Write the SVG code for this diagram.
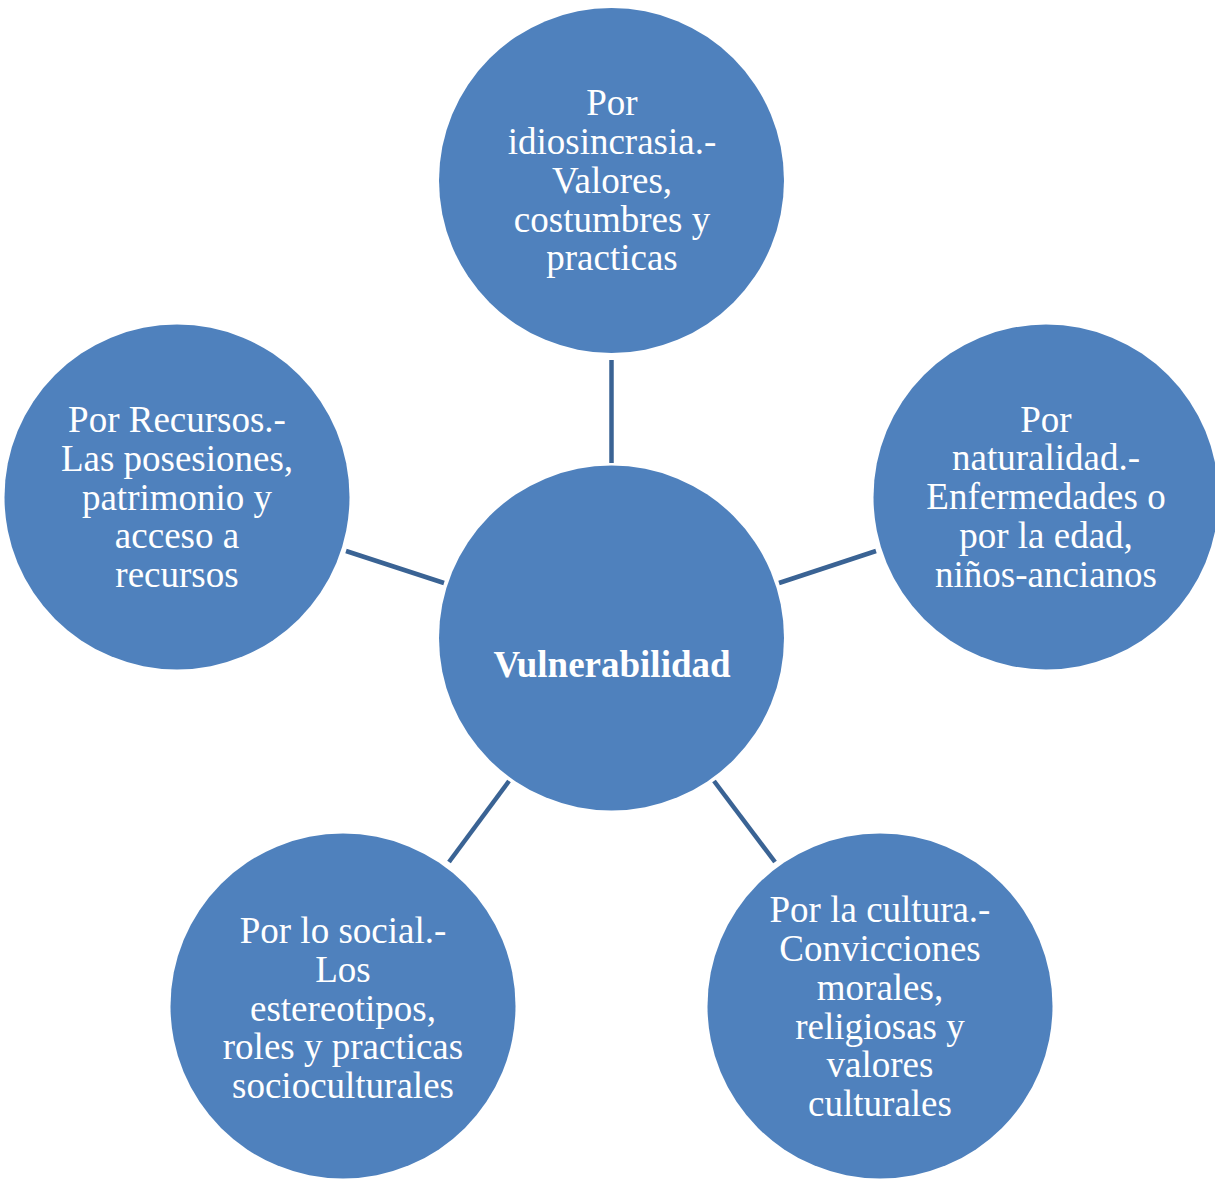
<svg xmlns="http://www.w3.org/2000/svg" width="1215" height="1179" viewBox="0 0 1215 1179">
<style>
.node{fill:#4F81BD;}
.t{font-family:"Liberation Serif","Times New Roman",serif;font-size:37px;fill:#FFFFFF;text-anchor:middle;}
.b{font-weight:bold;}
.c{stroke:#3A6394;stroke-width:4.5;fill:none;}
</style>
<rect width="1215" height="1179" fill="#FFFFFF"/>
<g id="connectors">
<line class="c" x1="611.5" y1="360" x2="611.5" y2="463"/>
<line class="c" x1="346" y1="551" x2="444" y2="583"/>
<line class="c" x1="779" y1="583" x2="876" y2="551"/>
<line class="c" x1="449" y1="862" x2="509" y2="781"/>
<line class="c" x1="714" y1="781" x2="775" y2="862"/>
</g>
<g id="center">
<circle class="node" cx="611.5" cy="638" r="172.5"/>
<text class="t b" x="612" y="677">Vulnerabilidad</text>
</g>
<g id="top">
<circle class="node" cx="611.5" cy="180.5" r="172.5"/>
<text class="t" x="612" y="115">Por</text>
<text class="t" x="612" y="154">idiosincrasia.-</text>
<text class="t" x="612" y="193">Valores,</text>
<text class="t" x="612" y="232">costumbres y</text>
<text class="t" x="612" y="270">practicas</text>
</g>
<g id="right">
<circle class="node" cx="1046" cy="497" r="172.5"/>
<text class="t" x="1046" y="432">Por</text>
<text class="t" x="1046" y="470">naturalidad.-</text>
<text class="t" x="1046" y="509">Enfermedades o</text>
<text class="t" x="1046" y="548">por la edad,</text>
<text class="t" x="1046" y="587">niños-ancianos</text>
</g>
<g id="left">
<circle class="node" cx="177" cy="497" r="172.5"/>
<text class="t" x="177" y="432">Por Recursos.-</text>
<text class="t" x="177" y="471">Las posesiones,</text>
<text class="t" x="177" y="510">patrimonio y</text>
<text class="t" x="177" y="548">acceso a</text>
<text class="t" x="177" y="587">recursos</text>
</g>
<g id="bottom-left">
<circle class="node" cx="343" cy="1006" r="172.5"/>
<text class="t" x="343" y="943">Por lo social.-</text>
<text class="t" x="343" y="982">Los</text>
<text class="t" x="343" y="1021">estereotipos,</text>
<text class="t" x="343" y="1059">roles y practicas</text>
<text class="t" x="343" y="1098">socioculturales</text>
</g>
<g id="bottom-right">
<circle class="node" cx="880" cy="1006" r="172.5"/>
<text class="t" x="880" y="922">Por la cultura.-</text>
<text class="t" x="880" y="961">Convicciones</text>
<text class="t" x="880" y="1000">morales,</text>
<text class="t" x="880" y="1039">religiosas y</text>
<text class="t" x="880" y="1077">valores</text>
<text class="t" x="880" y="1116">culturales</text>
</g>
</svg>
